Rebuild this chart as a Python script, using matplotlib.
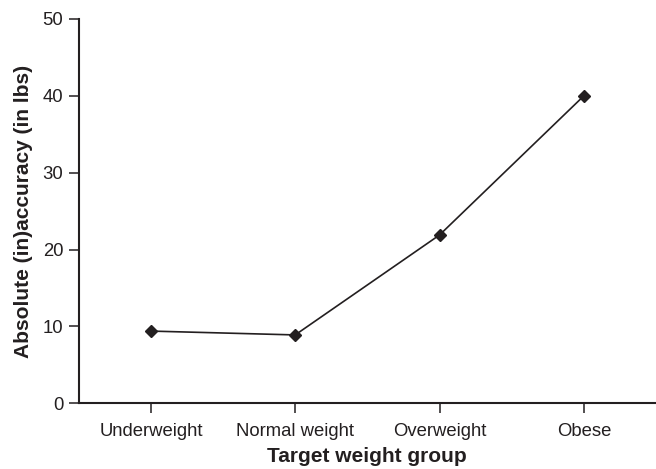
import matplotlib.pyplot as plt

plt.rcParams["font.family"] = ["Liberation Sans", "DejaVu Sans"]

groups = ["Underweight", "Normal weight", "Overweight", "Obese"]
inaccuracy = [9.4, 8.9, 21.9, 40.0]

ink = "#231f20"

fig = plt.figure(figsize=(6.56, 4.69), dpi=100)
ax = fig.add_axes([0.12, 0.140, 0.88, 0.8195])

xs = list(range(len(groups)))
ax.plot(xs, inaccuracy, color=ink, linewidth=1.2,
        marker="D", markersize=6.5, markerfacecolor=ink,
        markeredgecolor=ink)

ax.set_xlim(-0.5, 3.5)
ax.set_ylim(0, 50)
ax.set_yticks([0, 10, 20, 30, 40, 50])
ax.set_xticks(xs)
ax.set_xticklabels(groups)

for side in ("top", "right"):
    ax.spines[side].set_visible(False)
for side in ("left", "bottom"):
    ax.spines[side].set_linewidth(1.5)
    ax.spines[side].set_color(ink)

ax.tick_params(axis="both", direction="out", length=7, width=1.1,
               colors=ink, labelsize=13.3)
ax.tick_params(axis="y", pad=4)
ax.tick_params(axis="x", pad=7)

ax.set_xlabel("Target weight group", fontsize=15, fontweight="bold",
              color=ink, labelpad=5)
ax.set_ylabel("Absolute (in)accuracy (in lbs)", fontsize=15,
              fontweight="bold", color=ink, labelpad=7)

fig.savefig("out.png", dpi=100)
